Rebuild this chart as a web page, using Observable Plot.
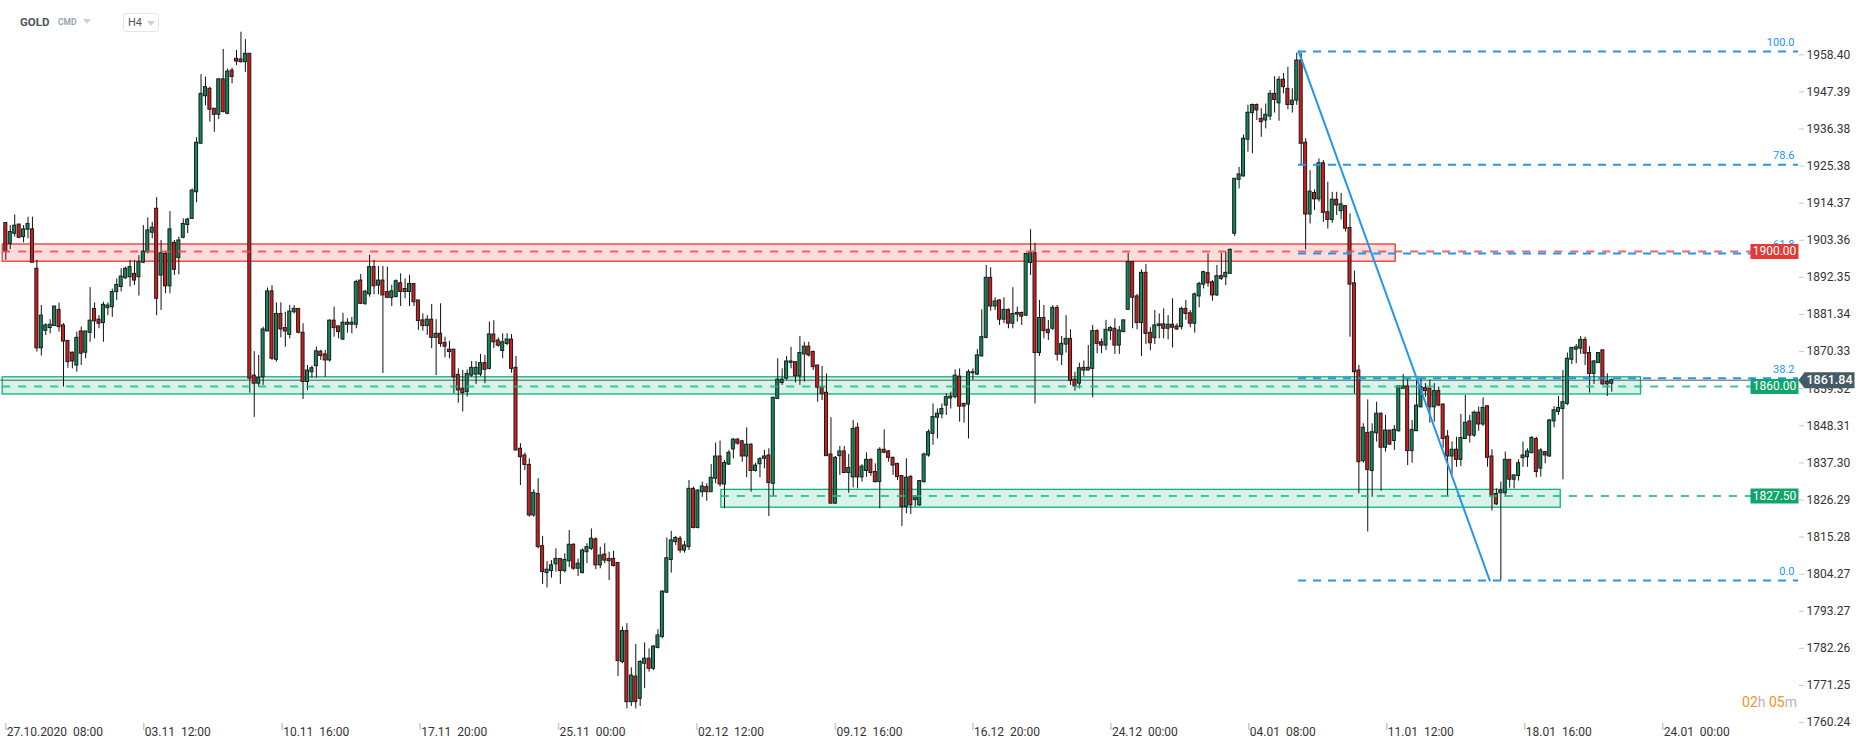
<!DOCTYPE html>
<html><head><meta charset="utf-8">
<script src="https://cdn.jsdelivr.net/npm/d3@7"></script>
<script src="https://cdn.jsdelivr.net/npm/@observablehq/plot@0.6"></script>
<style>
body{margin:0;background:#fff;font-family:Roboto,"Noto Sans",sans-serif;}
#wrap{position:relative;width:1866px;height:748px;overflow:hidden;background:#fff;}
.abs{position:absolute;white-space:nowrap;}
#gold{left:20px;top:15px;font-size:11.5px;font-weight:700;color:#4b5563;}
#cmd{left:58px;top:17px;font-size:8.5px;font-weight:700;color:#9aa4ae;}
.tri{width:0;height:0;border-left:4px solid transparent;border-right:4px solid transparent;border-top:5px solid #cfd3d6;}
#tri1{left:83px;top:19px;}
#h4box{left:123px;top:13px;width:34px;height:17px;border:1px solid #e3e5e8;border-radius:3px;}
#h4{left:128px;top:16px;font-size:11px;color:#555;}
#tri2{left:147px;top:21px;}
#timer{right:69px;top:694px;font-size:14px;}
#timer .o{color:#f7941d;} #timer .g{color:#b5b5b5;}
</style></head><body>
<div id="wrap">
<div id="chart"></div>
<div class="abs" id="gold">GOLD</div>
<div class="abs" id="cmd">CMD</div>
<div class="abs tri" id="tri1"></div>
<div class="abs" id="h4box"></div>
<div class="abs" id="h4">H4</div>
<div class="abs tri" id="tri2"></div>
<div class="abs" id="timer"><span class="o">02</span><span class="g">h</span> <span class="o">05</span><span class="g">m</span></div>
</div>
<script>
// ---- data (H4 candles) ----
const opens = [
1908.5,1902.3,1905.3,1908.0,1904.3,1906.5,1906.6,1894.9,1871.3,1876.5,
1877.3,1877.9,1882.7,1878.1,1873.5,1870.0,1866.2,1876.3,1870.0,1875.9,
1883.0,1879.8,1878.8,1883.2,1883.5,1888.0,1889.5,1892.1,1892.4,1893.4,
1892.4,1896.7,1899.8,1905.6,1912.7,1892.9,1899.3,1889.7,1902.6,1898.1,
1904.1,1907.9,1909.7,1917.6,1932.0,1946.1,1948.3,1942.4,1940.6,1951.1,
1940.9,1953.7,1957.2,1957.0,1956.2,1958.7,1863.2,1860.8,1862.7,1876.3,
1888.2,1867.9,1881.5,1877.3,1875.3,1882.0,1883.0,1875.9,1861.3,1864.2,
1866.0,1870.3,1869.5,1867.7,1879.5,1877.8,1873.9,1878.3,1878.3,1878.3,
1891.4,1884.5,1887.3,1895.4,1889.9,1891.4,1888.0,1886.2,1886.5,1890.6,
1888.9,1888.0,1890.4,1885.5,1879.6,1877.9,1879.8,1874.4,1875.6,1872.9,
1870.9,1870.9,1863.4,1859.3,1858.3,1863.2,1863.5,1863.5,1866.9,1865.2,
1875.4,1873.6,1870.5,1872.6,1873.9,1865.5,1841.5,1839.5,1836.7,1821.7,
1828.1,1812.6,1804.6,1805.2,1807.2,1808.8,1805.2,1808.1,1813.0,1805.9,
1804.6,1810.8,1811.8,1814.6,1806.9,1810.1,1808.8,1808.8,1807.6,1778.2,
1787.4,1766.3,1773.9,1767.3,1777.7,1779.2,1776.2,1782.4,1785.6,1798.8,
1808.5,1813.8,1814.8,1811.3,1812.3,1829.6,1818.0,1828.6,1830.1,1828.6,
1832.6,1839.2,1830.9,1836.8,1841.3,1844.2,1843.7,1839.2,1842.7,1834.9,
1836.9,1838.5,1839.5,1831.1,1856.3,1861.0,1862.3,1867.0,1867.2,1863.0,
1869.5,1871.8,1870.2,1866.2,1859.8,1858.1,1839.8,1825.2,1839.3,1840.7,
1834.3,1833.0,1847.7,1833.0,1834.9,1838.2,1834.6,1831.6,1841.2,1840.7,
1838.8,1837.0,1833.4,1824.2,1833.1,1826.3,1824.7,1831.6,1839.5,1845.9,
1850.7,1851.7,1854.3,1856.4,1856.8,1862.9,1854.8,1854.6,1863.9,1863.5,
1868.9,1874.4,1892.2,1883.7,1885.5,1879.8,1882.7,1878.6,1881.3,1881.8,
1881.0,1896.6,1899.5,1869.9,1880.3,1876.8,1877.1,1883.3,1869.4,1872.4,
1874.1,1862.0,1860.8,1865.5,1864.7,1865.2,1876.4,1873.1,1872.1,1876.4,
1877.1,1872.1,1876.1,1882.7,1896.9,1886.7,1878.8,1893.7,1875.9,1874.3,
1877.9,1878.4,1877.1,1878.3,1877.8,1877.6,1883.0,1881.7,1878.6,1886.7,
1890.2,1893.6,1890.9,1887.0,1892.7,1892.4,1893.4,1905.3,1921.3,1922.3,
1933.2,1941.1,1943.5,1939.4,1938.9,1940.1,1946.8,1944.0,1951.0,1948.3,
1943.5,1944.8,1956.7,1932.3,1911.0,1917.4,1915.5,1926.2,1911.7,1909.4,
1915.4,1912.0,1913.5,1907.0,1890.6,1864.7,1837.8,1846.2,1834.9,1846.1,
1851.9,1841.8,1846.9,1843.8,1846.7,1859.3,1860.0,1840.8,1846.7,1853.8,
1859.5,1859.3,1853.8,1858.6,1854.6,1845.1,1839.2,1841.2,1838.2,1844.4,
1849.6,1845.4,1852.2,1848.7,1854.1,1839.2,1828.1,1828.3,1828.3,1838.2,
1832.3,1833.4,1838.7,1839.0,1840.2,1844.4,1835.6,1840.5,1839.2,1849.6,
1852.4,1853.3,1854.8,1867.9,1870.9,1871.2,1873.8,1869.9,1863.7,1866.9,
1870.7,1860.6,1860.8];
const highs = [
1908.5,1907.7,1910.9,1908.2,1907.7,1910.2,1910.2,1897.4,1884.0,1878.6,
1879.8,1883.7,1884.7,1878.6,1873.5,1870.2,1876.1,1877.6,1876.3,1889.3,
1884.8,1881.0,1885.0,1884.8,1888.9,1891.9,1894.9,1895.4,1897.4,1897.4,
1898.8,1907.7,1910.0,1908.7,1916.0,1903.3,1899.8,1911.9,1903.3,1904.3,
1909.7,1909.9,1918.6,1933.8,1952.5,1951.8,1948.8,1942.4,1951.3,1960.0,
1954.2,1954.4,1959.7,1965.1,1962.9,1958.7,1870.3,1869.2,1877.6,1889.2,
1889.9,1884.8,1884.8,1882.0,1884.0,1884.0,1883.0,1878.6,1866.2,1866.0,
1871.7,1870.7,1870.7,1879.8,1883.5,1877.8,1881.7,1880.1,1880.5,1891.5,
1893.2,1888.5,1898.9,1897.4,1895.6,1895.6,1895.4,1890.0,1891.6,1893.4,
1891.9,1892.9,1890.4,1885.5,1881.5,1881.0,1884.3,1879.8,1884.5,1874.6,
1873.4,1870.9,1865.2,1864.7,1864.9,1867.4,1867.4,1869.5,1869.2,1879.1,
1879.5,1874.4,1875.6,1875.6,1875.4,1868.9,1843.0,1840.2,1838.5,1829.3,
1832.6,1815.5,1808.0,1808.3,1811.8,1808.8,1810.3,1817.2,1813.3,1808.8,
1811.8,1813.3,1817.7,1815.1,1812.3,1813.3,1810.8,1811.1,1807.6,1788.6,
1789.6,1776.5,1783.4,1778.7,1783.9,1782.1,1783.1,1787.8,1799.4,1815.0,
1817.0,1815.5,1815.5,1814.0,1832.1,1830.1,1829.3,1831.6,1831.1,1836.8,
1843.2,1843.8,1838.0,1841.0,1844.5,1844.5,1844.0,1847.7,1843.0,1837.2,
1838.9,1841.0,1841.5,1856.8,1868.2,1865.2,1868.9,1871.6,1867.2,1874.8,
1873.1,1873.1,1870.5,1866.2,1865.9,1863.7,1850.7,1839.2,1842.2,1842.2,
1839.8,1849.9,1849.1,1836.8,1840.3,1838.5,1837.0,1841.8,1847.1,1841.0,
1839.0,1837.2,1833.4,1838.5,1833.6,1827.6,1832.1,1840.2,1847.1,1854.8,
1853.3,1854.8,1857.8,1858.3,1864.9,1865.2,1855.0,1864.9,1865.2,1870.9,
1882.7,1895.9,1895.2,1886.3,1885.7,1886.3,1883.0,1889.3,1883.5,1882.0,
1899.5,1906.5,1902.5,1885.5,1884.0,1879.6,1884.0,1884.0,1874.8,1881.0,
1876.8,1864.2,1866.9,1867.5,1872.1,1878.1,1876.8,1874.1,1879.6,1877.8,
1880.0,1877.8,1879.6,1899.5,1896.9,1887.3,1894.6,1896.2,1877.4,1882.5,
1881.5,1883.0,1881.0,1886.0,1878.6,1883.5,1885.5,1882.5,1887.7,1890.9,
1894.2,1899.3,1891.4,1895.9,1899.5,1899.8,1900.8,1921.6,1925.0,1934.6,
1943.4,1943.8,1943.8,1942.4,1943.8,1947.8,1951.9,1951.9,1952.8,1954.7,
1948.3,1958.9,1958.9,1933.5,1924.0,1918.3,1927.5,1927.0,1920.6,1917.6,
1917.6,1917.3,1913.5,1911.2,1894.2,1866.2,1848.9,1856.0,1848.9,1855.3,
1852.1,1851.4,1846.9,1848.4,1860.0,1863.5,1862.3,1849.9,1862.3,1862.3,
1860.8,1861.9,1860.8,1859.8,1854.8,1846.9,1843.5,1844.9,1851.7,1857.3,
1851.4,1852.7,1853.9,1856.6,1854.3,1841.2,1829.6,1831.6,1840.5,1838.2,
1833.6,1838.2,1843.5,1841.5,1845.1,1844.9,1841.5,1840.7,1850.2,1854.0,
1857.0,1864.7,1869.9,1871.6,1872.4,1874.8,1874.6,1871.8,1867.7,1869.9,
1870.7,1863.7,1862.2];
const lows = [
1897.4,1900.6,1904.3,1903.8,1902.6,1903.8,1896.7,1870.2,1869.0,1875.1,
1875.6,1877.9,1876.1,1859.8,1865.4,1865.2,1864.2,1866.2,1868.2,1873.1,
1874.1,1877.1,1873.1,1881.0,1880.5,1885.5,1888.0,1891.7,1889.5,1889.9,
1886.8,1896.4,1899.3,1903.8,1881.0,1882.5,1887.5,1887.5,1892.9,1893.1,
1903.8,1905.3,1909.7,1914.5,1932.0,1943.3,1938.4,1935.4,1939.2,1941.2,
1940.6,1949.8,1955.2,1956.0,1953.2,1858.0,1850.8,1859.8,1860.3,1876.3,
1867.7,1867.2,1874.4,1871.6,1874.1,1881.5,1875.6,1856.1,1858.8,1862.4,
1862.4,1867.7,1862.7,1867.2,1874.6,1874.1,1873.6,1875.8,1875.6,1877.1,
1884.3,1884.0,1886.5,1887.2,1887.2,1863.8,1886.0,1883.7,1886.3,1883.7,
1886.0,1883.7,1883.7,1876.6,1876.4,1875.1,1871.2,1863.2,1871.6,1868.5,
1868.2,1857.8,1855.0,1852.4,1856.8,1862.7,1860.6,1862.9,1860.8,1864.9,
1871.2,1871.6,1868.2,1872.1,1863.9,1840.8,1830.6,1835.0,1821.2,1821.2,
1811.8,1801.2,1800.2,1803.1,1804.9,1801.2,1804.6,1806.2,1805.4,1803.6,
1804.4,1807.4,1811.3,1805.6,1805.9,1807.4,1802.4,1806.4,1773.9,1777.7,
1764.3,1765.0,1764.3,1765.0,1770.3,1775.2,1775.7,1782.1,1785.1,1798.5,
1804.6,1812.8,1810.5,1810.5,1811.3,1817.7,1817.7,1827.1,1825.9,1828.6,
1831.1,1830.1,1823.7,1836.5,1838.5,1842.5,1837.5,1832.9,1828.6,1834.6,
1832.9,1835.5,1821.4,1827.3,1856.3,1860.3,1861.8,1865.2,1861.0,1860.3,
1861.3,1868.7,1864.7,1855.3,1855.8,1839.3,1825.2,1825.0,1833.6,1834.1,
1828.3,1829.9,1829.6,1831.6,1833.0,1833.3,1831.3,1823.7,1840.0,1837.5,
1833.6,1832.1,1818.4,1822.2,1822.0,1824.2,1824.4,1831.3,1839.0,1842.5,
1844.4,1850.4,1851.4,1853.3,1856.3,1849.4,1849.1,1844.4,1861.8,1863.2,
1868.7,1874.1,1882.3,1882.5,1878.1,1878.6,1877.1,1877.1,1879.1,1878.1,
1880.7,1892.9,1854.8,1868.9,1874.1,1873.6,1876.6,1867.5,1866.2,1869.9,
1860.3,1858.6,1859.3,1863.0,1864.7,1856.6,1869.7,1869.7,1870.6,1873.6,
1869.5,1869.5,1876.1,1882.7,1877.1,1876.8,1868.9,1872.4,1870.6,1872.4,
1874.1,1874.1,1873.8,1871.4,1876.6,1876.8,1879.6,1877.4,1875.8,1883.3,
1888.9,1889.4,1885.3,1886.7,1891.4,1889.9,1893.4,1904.5,1918.6,1922.1,
1929.5,1929.0,1938.9,1933.9,1936.4,1938.9,1941.1,1938.7,1946.8,1942.1,
1941.1,1943.4,1925.8,1900.5,1908.2,1912.2,1914.7,1908.7,1906.7,1908.4,
1910.7,1909.4,1905.8,1874.6,1857.8,1828.1,1837.2,1816.8,1827.1,1843.5,
1828.9,1840.5,1842.5,1841.0,1846.4,1859.3,1836.5,1837.2,1846.7,1853.6,
1856.8,1849.1,1849.4,1854.0,1841.7,1827.3,1833.9,1836.0,1836.2,1844.4,
1843.2,1844.9,1846.7,1848.1,1836.0,1823.0,1824.7,1802.4,1827.1,1829.8,
1829.6,1831.9,1836.0,1836.0,1840.0,1832.9,1833.1,1837.0,1839.0,1847.7,
1851.4,1832.3,1854.3,1866.5,1866.7,1869.5,1866.2,1858.0,1860.6,1866.9,
1860.3,1857.0,1858.3];
const closes = [
1900.1,1905.8,1907.7,1904.1,1906.6,1908.2,1896.7,1871.3,1881.0,1878.1,
1878.3,1883.7,1877.6,1873.3,1867.2,1867.4,1874.4,1869.7,1876.3,1879.5,
1879.3,1878.6,1884.2,1884.0,1888.0,1890.1,1892.6,1894.9,1895.4,1891.4,
1896.9,1900.0,1906.3,1907.1,1886.0,1899.5,1889.7,1906.6,1894.6,1903.3,
1908.2,1909.5,1918.1,1932.3,1946.8,1948.8,1942.1,1940.6,1951.1,1941.4,
1953.4,1951.8,1956.4,1956.2,1958.7,1862.3,1860.8,1862.5,1876.9,1888.2,
1868.2,1881.5,1876.9,1876.3,1882.2,1883.0,1875.9,1861.3,1864.7,1865.4,
1870.4,1869.0,1867.7,1879.5,1877.3,1876.1,1878.9,1878.9,1878.9,1891.0,
1884.5,1888.1,1895.4,1889.7,1891.4,1887.0,1886.3,1888.2,1891.2,1888.0,
1888.0,1890.4,1885.0,1879.4,1877.9,1879.8,1874.4,1875.6,1872.6,1871.8,
1870.2,1862.7,1858.8,1858.0,1863.7,1865.5,1865.5,1866.9,1864.9,1875.4,
1873.1,1872.1,1873.1,1873.9,1865.2,1841.0,1839.0,1836.7,1821.7,1828.4,
1812.3,1804.9,1805.6,1806.9,1808.8,1805.2,1808.5,1813.0,1805.9,1807.4,
1811.3,1812.3,1814.8,1806.9,1809.8,1808.3,1808.1,1806.7,1778.5,1787.4,
1766.3,1774.2,1766.3,1778.2,1779.2,1776.2,1782.8,1786.1,1799.1,1809.0,
1814.3,1815.0,1811.3,1812.8,1829.6,1818.0,1829.1,1830.3,1828.6,1832.9,
1839.2,1830.9,1837.3,1840.3,1844.2,1843.0,1839.2,1842.7,1834.9,1836.5,
1838.4,1839.2,1831.3,1856.6,1862.0,1862.0,1867.4,1867.4,1863.0,1869.9,
1871.8,1869.2,1865.7,1859.6,1857.8,1839.3,1825.2,1838.8,1840.7,1834.3,
1835.8,1847.4,1833.0,1836.2,1838.2,1834.3,1831.6,1841.2,1840.3,1838.8,
1836.5,1833.1,1824.2,1832.9,1824.7,1827.4,1831.9,1839.8,1846.4,1850.9,
1851.9,1853.3,1856.8,1857.0,1863.2,1854.0,1854.0,1864.2,1864.2,1869.2,
1874.6,1892.2,1883.7,1885.2,1879.8,1882.7,1878.6,1881.5,1881.8,1880.7,
1899.3,1899.5,1869.9,1880.3,1876.4,1875.8,1883.3,1869.4,1872.6,1874.1,
1861.6,1860.0,1865.4,1864.7,1865.5,1876.4,1872.6,1872.1,1876.8,1877.3,
1872.1,1876.6,1879.6,1896.9,1886.3,1878.8,1893.7,1875.6,1872.8,1878.1,
1878.4,1877.1,1878.3,1877.4,1876.9,1883.0,1881.5,1878.6,1887.3,1890.4,
1893.9,1890.6,1887.0,1892.7,1891.9,1893.7,1900.5,1921.6,1922.9,1933.5,
1941.2,1943.5,1941.9,1938.4,1940.6,1946.8,1945.0,1951.0,1948.8,1943.5,
1944.8,1956.7,1932.0,1911.0,1917.8,1915.5,1926.2,1911.5,1909.4,1915.4,
1913.7,1914.0,1906.8,1890.2,1864.2,1837.5,1847.7,1835.2,1846.4,1851.9,
1841.8,1846.9,1842.7,1847.1,1860.0,1860.0,1840.8,1847.1,1854.3,1859.8,
1858.6,1853.8,1858.6,1854.3,1844.4,1839.2,1841.2,1838.2,1844.7,1849.2,
1845.4,1852.2,1848.7,1853.6,1838.8,1827.6,1825.0,1829.1,1838.2,1832.3,
1833.6,1837.2,1839.5,1840.7,1844.7,1834.6,1841.0,1839.5,1849.9,1852.9,
1853.6,1855.3,1868.2,1871.4,1871.6,1873.8,1869.7,1863.7,1867.4,1869.9,
1860.6,1861.3,1861.84];

// axis ticks
const yTicks = [1958.40,1947.39,1936.38,1925.38,1914.37,1903.36,1892.35,1881.34,1870.33,1859.32,1848.31,1837.30,1826.29,1815.28,1804.27,1793.27,1782.26,1771.25,1760.24];
const xTickIdx = [0, 31.1, 62.3, 93.4, 124.6, 155.8, 187.0, 218.0, 249.1, 280.2, 311.3, 342.4, 373.5];
const xTickLabels = ["27.10.2020  08:00","03.11  12:00","10.11  16:00","17.11  20:00","25.11  00:00","02.12  12:00","09.12  16:00","16.12  20:00","24.12  00:00","04.01  08:00","11.01  12:00","18.01  16:00","24.01  00:00"];

// scale extents (bar index / price)
const xDomain = [-1.2, 404.1];
const yDomain = [1752.55, 1974.51];

// zones
const zones = [
  {i1: -0.7, i2: 313.3, lo: 1897.0, hi: 1902.1, fill: "rgba(239,83,80,0.2)", stroke: "#e53935"},
  {i1: -0.7, i2: 368.6, lo: 1857.6, hi: 1862.7, fill: "rgba(16,185,129,0.17)", stroke: "#10b07a"},
  {i1: 161.3, i2: 350.5, lo: 1824.0, hi: 1829.3, fill: "rgba(16,185,129,0.17)", stroke: "#10b07a"}
];
const levels = [
  {p: 1900.0, from: -0.7, color: "#ef4a4a"},
  {p: 1860.0, from: -0.7, color: "#22bb80"},
  {p: 1827.5, from: 161.3, color: "#22bb80"}
];
const priceTags = [
  {p: 1900.0, text: "1900.00", fill: "#e53935"},
  {p: 1860.0, text: "1860.00", fill: "#10a56b"},
  {p: 1827.5, text: "1827.50", fill: "#10a56b"}
];
const lastPrice = 1861.84;
const fibLevels = [
  {label: "100.0", p: 1959.4},
  {label: "78.6", p: 1925.8},
  {label: "61.8", p: 1899.4},
  {label: "38.2", p: 1862.4},
  {label: "0.0", p: 1802.4}
];
const fibStart = 291.4;
const fibTrend = [{i: 291.4, p: 1959.4}, {i: 334.5, p: 1802.4}];

// ---- build ----
const candles = opens.map((o, i) => ({i, o, h: highs[i], l: lows[i], c: closes[i]}));
const xTicks = xTickIdx.map((i, k) => ({i, label: xTickLabels[k].replace(/ /g, "\u00a0")}));
const GREEN = "#0f8a5b", RED = "#d41c1c";

const boxSym = (w, h) => ({draw(ctx) { ctx.rect(-w / 2, -h / 2, w, h); }});
const arrowSym = {draw(ctx) { ctx.moveTo(0, 0); ctx.lineTo(6, -8); ctx.lineTo(56, -8); ctx.lineTo(56, 8); ctx.lineTo(6, 8); ctx.closePath(); }};
const vTick = {draw(ctx) { ctx.moveTo(0, -3.5); ctx.lineTo(0, 3.5); }};

const chart = Plot.plot({
  width: 1866, height: 748,
  marginLeft: 0, marginRight: 68, marginTop: 0, marginBottom: 0,
  x: {type: "linear", domain: xDomain, axis: null},
  y: {domain: yDomain, axis: null},
  color: {type: "identity"},
  style: {fontFamily: "Roboto, 'Noto Sans', sans-serif", fontSize: "12px", background: "#fff", overflow: "visible"},
  marks: [
    Plot.rect(zones, {x1: "i1", x2: "i2", y1: "lo", y2: "hi", fill: "fill"}),
    Plot.rect(zones, {x1: "i1", x2: "i2", y1: "lo", y2: "hi", fill: "none", stroke: "stroke", strokeWidth: 1.3}),
    Plot.ruleY([lastPrice], {stroke: "#4f5b66", strokeWidth: 1}),
    Plot.ruleX(candles, {x: "i", y1: "l", y2: "h", stroke: "#111", strokeWidth: 1}),
    Plot.rect(candles, {x1: d => d.i - 0.34, x2: d => d.i + 0.34, y1: "o", y2: "c",
      fill: d => d.c >= d.o ? GREEN : RED, stroke: "#1b1b1b", strokeWidth: 1}),
    Plot.ruleY(levels, {y: "p", x1: "from", x2: xDomain[1], stroke: "color", strokeWidth: 2, strokeDasharray: "8,8", strokeOpacity: 0.85}),
    Plot.ruleY(fibLevels, {y: "p", x1: fibStart, x2: xDomain[1], stroke: "#2196f3", strokeWidth: 2, strokeDasharray: "8,7"}),
    Plot.line(fibTrend, {x: "i", y: "p", stroke: "#2196f3", strokeWidth: 2}),
    Plot.text(fibLevels, {y: "p", text: "label", frameAnchor: "right", dx: -4, dy: -9, textAnchor: "end", fill: "#2196f3", fontSize: 11}),
    Plot.axisY(yTicks, {anchor: "right", tickSize: 5, tickPadding: 3, tickFormat: d => d.toFixed(2), stroke: "#c8c8c8", fill: "#333", fontSize: 12}),
    Plot.dot(priceTags, {y: "p", frameAnchor: "right", dx: -24, symbol: boxSym(48, 15), fill: "fill", r: 5}),
    Plot.text(priceTags, {y: "p", text: "text", frameAnchor: "right", dx: -24, fill: "#fff", fontSize: 12, textAnchor: "middle"}),
    Plot.dot([lastPrice], {y: d => d, frameAnchor: "right", dx: 0, symbol: arrowSym, fill: "#455a64", r: 5}),
    Plot.text([lastPrice], {y: d => d, text: d => d.toFixed(2), frameAnchor: "right", dx: 31, fill: "#fff", fontSize: 12.5, fontWeight: 500, textAnchor: "middle"}),
    Plot.dot(xTicks, {x: "i", frameAnchor: "bottom", dy: -22, symbol: vTick, r: 3, stroke: "#c8c8c8", fill: "none"}),
    Plot.text(xTicks, {x: "i", text: "label", frameAnchor: "bottom", dy: -13, dx: 1, textAnchor: "start", fill: "#333", fontSize: 12})
  ]
});
document.getElementById("chart").appendChild(chart);
</script>
</body></html>
